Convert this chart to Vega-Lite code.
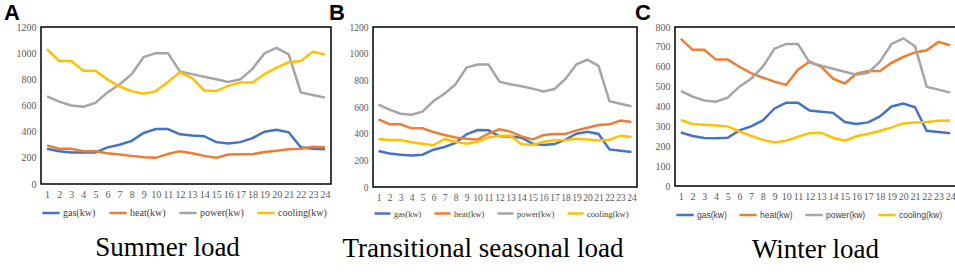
{
"$schema": "https://vega.github.io/schema/vega-lite/v6.json",
"padding": {"left": 3, "right": 0, "top": 1, "bottom": 2},
"background": "white",
"datasets": {
"summer": [
{"hour":1,"series":"gas(kw)","value":270},{"hour":2,"series":"gas(kw)","value":250},{"hour":3,"series":"gas(kw)","value":240},{"hour":4,"series":"gas(kw)","value":240},{"hour":5,"series":"gas(kw)","value":240},{"hour":6,"series":"gas(kw)","value":280},{"hour":7,"series":"gas(kw)","value":300},{"hour":8,"series":"gas(kw)","value":330},{"hour":9,"series":"gas(kw)","value":390},{"hour":10,"series":"gas(kw)","value":420},{"hour":11,"series":"gas(kw)","value":420},{"hour":12,"series":"gas(kw)","value":380},{"hour":13,"series":"gas(kw)","value":370},{"hour":14,"series":"gas(kw)","value":365},{"hour":15,"series":"gas(kw)","value":320},{"hour":16,"series":"gas(kw)","value":310},{"hour":17,"series":"gas(kw)","value":320},{"hour":18,"series":"gas(kw)","value":350},{"hour":19,"series":"gas(kw)","value":400},{"hour":20,"series":"gas(kw)","value":415},{"hour":21,"series":"gas(kw)","value":395},{"hour":22,"series":"gas(kw)","value":280},{"hour":23,"series":"gas(kw)","value":270},{"hour":24,"series":"gas(kw)","value":265},
{"hour":1,"series":"heat(kw)","value":295},{"hour":2,"series":"heat(kw)","value":270},{"hour":3,"series":"heat(kw)","value":270},{"hour":4,"series":"heat(kw)","value":250},{"hour":5,"series":"heat(kw)","value":250},{"hour":6,"series":"heat(kw)","value":235},{"hour":7,"series":"heat(kw)","value":225},{"hour":8,"series":"heat(kw)","value":215},{"hour":9,"series":"heat(kw)","value":205},{"hour":10,"series":"heat(kw)","value":200},{"hour":11,"series":"heat(kw)","value":230},{"hour":12,"series":"heat(kw)","value":250},{"hour":13,"series":"heat(kw)","value":235},{"hour":14,"series":"heat(kw)","value":215},{"hour":15,"series":"heat(kw)","value":200},{"hour":16,"series":"heat(kw)","value":225},{"hour":17,"series":"heat(kw)","value":228},{"hour":18,"series":"heat(kw)","value":228},{"hour":19,"series":"heat(kw)","value":245},{"hour":20,"series":"heat(kw)","value":255},{"hour":21,"series":"heat(kw)","value":265},{"hour":22,"series":"heat(kw)","value":270},{"hour":23,"series":"heat(kw)","value":285},{"hour":24,"series":"heat(kw)","value":280},
{"hour":1,"series":"power(kw)","value":670},{"hour":2,"series":"power(kw)","value":630},{"hour":3,"series":"power(kw)","value":600},{"hour":4,"series":"power(kw)","value":590},{"hour":5,"series":"power(kw)","value":620},{"hour":6,"series":"power(kw)","value":700},{"hour":7,"series":"power(kw)","value":760},{"hour":8,"series":"power(kw)","value":840},{"hour":9,"series":"power(kw)","value":970},{"hour":10,"series":"power(kw)","value":1000},{"hour":11,"series":"power(kw)","value":1000},{"hour":12,"series":"power(kw)","value":860},{"hour":13,"series":"power(kw)","value":840},{"hour":14,"series":"power(kw)","value":820},{"hour":15,"series":"power(kw)","value":800},{"hour":16,"series":"power(kw)","value":780},{"hour":17,"series":"power(kw)","value":800},{"hour":18,"series":"power(kw)","value":880},{"hour":19,"series":"power(kw)","value":1000},{"hour":20,"series":"power(kw)","value":1040},{"hour":21,"series":"power(kw)","value":990},{"hour":22,"series":"power(kw)","value":700},{"hour":23,"series":"power(kw)","value":680},{"hour":24,"series":"power(kw)","value":660},
{"hour":1,"series":"cooling(kw)","value":1030},{"hour":2,"series":"cooling(kw)","value":940},{"hour":3,"series":"cooling(kw)","value":940},{"hour":4,"series":"cooling(kw)","value":865},{"hour":5,"series":"cooling(kw)","value":865},{"hour":6,"series":"cooling(kw)","value":800},{"hour":7,"series":"cooling(kw)","value":745},{"hour":8,"series":"cooling(kw)","value":710},{"hour":9,"series":"cooling(kw)","value":690},{"hour":10,"series":"cooling(kw)","value":710},{"hour":11,"series":"cooling(kw)","value":780},{"hour":12,"series":"cooling(kw)","value":855},{"hour":13,"series":"cooling(kw)","value":810},{"hour":14,"series":"cooling(kw)","value":715},{"hour":15,"series":"cooling(kw)","value":710},{"hour":16,"series":"cooling(kw)","value":750},{"hour":17,"series":"cooling(kw)","value":775},{"hour":18,"series":"cooling(kw)","value":775},{"hour":19,"series":"cooling(kw)","value":840},{"hour":20,"series":"cooling(kw)","value":890},{"hour":21,"series":"cooling(kw)","value":930},{"hour":22,"series":"cooling(kw)","value":940},{"hour":23,"series":"cooling(kw)","value":1010},{"hour":24,"series":"cooling(kw)","value":990}
],
"transitional": [
{"hour":1,"series":"gas(kw)","value":270},{"hour":2,"series":"gas(kw)","value":252},{"hour":3,"series":"gas(kw)","value":242},{"hour":4,"series":"gas(kw)","value":236},{"hour":5,"series":"gas(kw)","value":242},{"hour":6,"series":"gas(kw)","value":280},{"hour":7,"series":"gas(kw)","value":300},{"hour":8,"series":"gas(kw)","value":330},{"hour":9,"series":"gas(kw)","value":395},{"hour":10,"series":"gas(kw)","value":427},{"hour":11,"series":"gas(kw)","value":425},{"hour":12,"series":"gas(kw)","value":380},{"hour":13,"series":"gas(kw)","value":378},{"hour":14,"series":"gas(kw)","value":370},{"hour":15,"series":"gas(kw)","value":325},{"hour":16,"series":"gas(kw)","value":315},{"hour":17,"series":"gas(kw)","value":322},{"hour":18,"series":"gas(kw)","value":355},{"hour":19,"series":"gas(kw)","value":400},{"hour":20,"series":"gas(kw)","value":415},{"hour":21,"series":"gas(kw)","value":398},{"hour":22,"series":"gas(kw)","value":282},{"hour":23,"series":"gas(kw)","value":272},{"hour":24,"series":"gas(kw)","value":262},
{"hour":1,"series":"heat(kw)","value":508},{"hour":2,"series":"heat(kw)","value":471},{"hour":3,"series":"heat(kw)","value":470},{"hour":4,"series":"heat(kw)","value":440},{"hour":5,"series":"heat(kw)","value":440},{"hour":6,"series":"heat(kw)","value":412},{"hour":7,"series":"heat(kw)","value":390},{"hour":8,"series":"heat(kw)","value":372},{"hour":9,"series":"heat(kw)","value":362},{"hour":10,"series":"heat(kw)","value":356},{"hour":11,"series":"heat(kw)","value":400},{"hour":12,"series":"heat(kw)","value":432},{"hour":13,"series":"heat(kw)","value":415},{"hour":14,"series":"heat(kw)","value":380},{"hour":15,"series":"heat(kw)","value":356},{"hour":16,"series":"heat(kw)","value":390},{"hour":17,"series":"heat(kw)","value":398},{"hour":18,"series":"heat(kw)","value":398},{"hour":19,"series":"heat(kw)","value":425},{"hour":20,"series":"heat(kw)","value":445},{"hour":21,"series":"heat(kw)","value":465},{"hour":22,"series":"heat(kw)","value":470},{"hour":23,"series":"heat(kw)","value":498},{"hour":24,"series":"heat(kw)","value":488},
{"hour":1,"series":"power(kw)","value":618},{"hour":2,"series":"power(kw)","value":580},{"hour":3,"series":"power(kw)","value":550},{"hour":4,"series":"power(kw)","value":542},{"hour":5,"series":"power(kw)","value":565},{"hour":6,"series":"power(kw)","value":645},{"hour":7,"series":"power(kw)","value":700},{"hour":8,"series":"power(kw)","value":770},{"hour":9,"series":"power(kw)","value":896},{"hour":10,"series":"power(kw)","value":918},{"hour":11,"series":"power(kw)","value":918},{"hour":12,"series":"power(kw)","value":790},{"hour":13,"series":"power(kw)","value":770},{"hour":14,"series":"power(kw)","value":755},{"hour":15,"series":"power(kw)","value":738},{"hour":16,"series":"power(kw)","value":717},{"hour":17,"series":"power(kw)","value":735},{"hour":18,"series":"power(kw)","value":810},{"hour":19,"series":"power(kw)","value":920},{"hour":20,"series":"power(kw)","value":955},{"hour":21,"series":"power(kw)","value":908},{"hour":22,"series":"power(kw)","value":643},{"hour":23,"series":"power(kw)","value":625},{"hour":24,"series":"power(kw)","value":606},
{"hour":1,"series":"cooling(kw)","value":360},{"hour":2,"series":"cooling(kw)","value":353},{"hour":3,"series":"cooling(kw)","value":353},{"hour":4,"series":"cooling(kw)","value":335},{"hour":5,"series":"cooling(kw)","value":325},{"hour":6,"series":"cooling(kw)","value":313},{"hour":7,"series":"cooling(kw)","value":360},{"hour":8,"series":"cooling(kw)","value":340},{"hour":9,"series":"cooling(kw)","value":325},{"hour":10,"series":"cooling(kw)","value":340},{"hour":11,"series":"cooling(kw)","value":372},{"hour":12,"series":"cooling(kw)","value":385},{"hour":13,"series":"cooling(kw)","value":385},{"hour":14,"series":"cooling(kw)","value":320},{"hour":15,"series":"cooling(kw)","value":315},{"hour":16,"series":"cooling(kw)","value":340},{"hour":17,"series":"cooling(kw)","value":350},{"hour":18,"series":"cooling(kw)","value":350},{"hour":19,"series":"cooling(kw)","value":362},{"hour":20,"series":"cooling(kw)","value":356},{"hour":21,"series":"cooling(kw)","value":348},{"hour":22,"series":"cooling(kw)","value":355},{"hour":23,"series":"cooling(kw)","value":385},{"hour":24,"series":"cooling(kw)","value":375}
],
"winter": [
{"hour":1,"series":"gas(kw)","value":269},{"hour":2,"series":"gas(kw)","value":252},{"hour":3,"series":"gas(kw)","value":242},{"hour":4,"series":"gas(kw)","value":240},{"hour":5,"series":"gas(kw)","value":243},{"hour":6,"series":"gas(kw)","value":280},{"hour":7,"series":"gas(kw)","value":300},{"hour":8,"series":"gas(kw)","value":330},{"hour":9,"series":"gas(kw)","value":390},{"hour":10,"series":"gas(kw)","value":419},{"hour":11,"series":"gas(kw)","value":419},{"hour":12,"series":"gas(kw)","value":380},{"hour":13,"series":"gas(kw)","value":373},{"hour":14,"series":"gas(kw)","value":368},{"hour":15,"series":"gas(kw)","value":322},{"hour":16,"series":"gas(kw)","value":312},{"hour":17,"series":"gas(kw)","value":320},{"hour":18,"series":"gas(kw)","value":350},{"hour":19,"series":"gas(kw)","value":400},{"hour":20,"series":"gas(kw)","value":415},{"hour":21,"series":"gas(kw)","value":396},{"hour":22,"series":"gas(kw)","value":278},{"hour":23,"series":"gas(kw)","value":272},{"hour":24,"series":"gas(kw)","value":265},
{"hour":1,"series":"heat(kw)","value":740},{"hour":2,"series":"heat(kw)","value":685},{"hour":3,"series":"heat(kw)","value":685},{"hour":4,"series":"heat(kw)","value":636},{"hour":5,"series":"heat(kw)","value":636},{"hour":6,"series":"heat(kw)","value":600},{"hour":7,"series":"heat(kw)","value":568},{"hour":8,"series":"heat(kw)","value":545},{"hour":9,"series":"heat(kw)","value":525},{"hour":10,"series":"heat(kw)","value":509},{"hour":11,"series":"heat(kw)","value":585},{"hour":12,"series":"heat(kw)","value":626},{"hour":13,"series":"heat(kw)","value":600},{"hour":14,"series":"heat(kw)","value":540},{"hour":15,"series":"heat(kw)","value":516},{"hour":16,"series":"heat(kw)","value":565},{"hour":17,"series":"heat(kw)","value":578},{"hour":18,"series":"heat(kw)","value":578},{"hour":19,"series":"heat(kw)","value":620},{"hour":20,"series":"heat(kw)","value":650},{"hour":21,"series":"heat(kw)","value":672},{"hour":22,"series":"heat(kw)","value":683},{"hour":23,"series":"heat(kw)","value":725},{"hour":24,"series":"heat(kw)","value":708},
{"hour":1,"series":"power(kw)","value":478},{"hour":2,"series":"power(kw)","value":450},{"hour":3,"series":"power(kw)","value":430},{"hour":4,"series":"power(kw)","value":424},{"hour":5,"series":"power(kw)","value":445},{"hour":6,"series":"power(kw)","value":500},{"hour":7,"series":"power(kw)","value":540},{"hour":8,"series":"power(kw)","value":600},{"hour":9,"series":"power(kw)","value":691},{"hour":10,"series":"power(kw)","value":715},{"hour":11,"series":"power(kw)","value":715},{"hour":12,"series":"power(kw)","value":620},{"hour":13,"series":"power(kw)","value":605},{"hour":14,"series":"power(kw)","value":590},{"hour":15,"series":"power(kw)","value":575},{"hour":16,"series":"power(kw)","value":560},{"hour":17,"series":"power(kw)","value":570},{"hour":18,"series":"power(kw)","value":625},{"hour":19,"series":"power(kw)","value":715},{"hour":20,"series":"power(kw)","value":743},{"hour":21,"series":"power(kw)","value":703},{"hour":22,"series":"power(kw)","value":500},{"hour":23,"series":"power(kw)","value":485},{"hour":24,"series":"power(kw)","value":470},
{"hour":1,"series":"cooling(kw)","value":332},{"hour":2,"series":"cooling(kw)","value":312},{"hour":3,"series":"cooling(kw)","value":308},{"hour":4,"series":"cooling(kw)","value":305},{"hour":5,"series":"cooling(kw)","value":300},{"hour":6,"series":"cooling(kw)","value":275},{"hour":7,"series":"cooling(kw)","value":252},{"hour":8,"series":"cooling(kw)","value":232},{"hour":9,"series":"cooling(kw)","value":219},{"hour":10,"series":"cooling(kw)","value":228},{"hour":11,"series":"cooling(kw)","value":248},{"hour":12,"series":"cooling(kw)","value":266},{"hour":13,"series":"cooling(kw)","value":268},{"hour":14,"series":"cooling(kw)","value":243},{"hour":15,"series":"cooling(kw)","value":228},{"hour":16,"series":"cooling(kw)","value":250},{"hour":17,"series":"cooling(kw)","value":263},{"hour":18,"series":"cooling(kw)","value":277},{"hour":19,"series":"cooling(kw)","value":295},{"hour":20,"series":"cooling(kw)","value":315},{"hour":21,"series":"cooling(kw)","value":320},{"hour":22,"series":"cooling(kw)","value":322},{"hour":23,"series":"cooling(kw)","value":328},{"hour":24,"series":"cooling(kw)","value":330}
]
},
"config": {
"view": {"stroke": "#000000", "strokeWidth": 1.5},
"axis": {"labelFont": "Liberation Serif", "labelFontSize": 10, "labelColor": "#595959", "ticks": false, "domain": false, "grid": false, "title": null, "labelPadding": 5, "format": "d"},
"legend": {"orient": "bottom", "direction": "horizontal", "title": null, "symbolType": "stroke", "symbolStrokeWidth": 3, "symbolSize": 300, "labelFont": "Liberation Serif", "labelFontSize": 10, "labelColor": "#404040", "columnPadding": 8, "offset": 3, "labelOffset": 2, "gridAlign": "none"},
"line": {"strokeWidth": 2.5}
},
"spacing": -4,
"resolve": {"scale": {"color": "independent", "x": "independent", "y": "independent"}, "legend": {"color": "independent"}},
"hconcat": [
{
"title": {"text": "Summer load", "orient": "bottom", "font": "Liberation Serif", "fontSize": 27, "fontWeight": "normal", "color": "#000000", "anchor": "middle", "offset": 17},
"vconcat": [{
"title": {"text": "A", "anchor": "start", "frame": "group", "font": "Liberation Sans", "fontSize": 22, "fontWeight": "bold", "color": "#000000", "dx": -37, "offset": -3},
"width": 290, "height": 157,
"data": {"name": "summer"},
"mark": {"type": "line"},
"encoding": {
"x": {"field": "hour", "type": "ordinal", "scale": {"type": "point", "padding": 0.5}, "axis": {"labelAngle": 0}},
"y": {"field": "value", "type": "quantitative", "scale": {"domain": [0, 1200], "nice": false}, "axis": {"values": [0, 200, 400, 600, 800, 1000, 1200]}},
"color": {"field": "series", "type": "nominal", "scale": {"domain": ["gas(kw)", "heat(kw)", "power(kw)", "cooling(kw)"], "range": ["#4472C4", "#ED7D31", "#A5A5A5", "#FFC000"]}}
}
}]
},
{
"title": {"text": "Transitional seasonal load", "orient": "bottom", "font": "Liberation Serif", "fontSize": 27, "fontWeight": "normal", "color": "#000000", "anchor": "middle", "offset": 17},
"vconcat": [{
"title": {"text": "B", "anchor": "start", "frame": "group", "font": "Liberation Sans", "fontSize": 22, "fontWeight": "bold", "color": "#000000", "dx": -44, "offset": -3},
"width": 264, "height": 160,
"data": {"name": "transitional"},
"mark": {"type": "line"},
"encoding": {
"x": {"field": "hour", "type": "ordinal", "scale": {"type": "point", "padding": 0.5}, "axis": {"labelAngle": 0, "labelFontSize": 9.5}},
"y": {"field": "value", "type": "quantitative", "scale": {"domain": [0, 1200], "nice": false}, "axis": {"values": [0, 200, 400, 600, 800, 1000, 1200], "labelFontSize": 9.5}},
"color": {"field": "series", "type": "nominal", "scale": {"domain": ["gas(kw)", "heat(kw)", "power(kw)", "cooling(kw)"], "range": ["#4472C4", "#ED7D31", "#A5A5A5", "#FFC000"]}, "legend": {"labelFontSize": 8.5, "columnPadding": 7, "symbolSize": 256, "offset": 1}}
}
}]
},
{
"title": {"text": "Winter load", "orient": "bottom", "font": "Liberation Serif", "fontSize": 27, "fontWeight": "normal", "color": "#000000", "anchor": "middle", "offset": 17, "dx": 20},
"vconcat": [{
"title": {"text": "C", "anchor": "start", "frame": "group", "font": "Liberation Sans", "fontSize": 22, "fontWeight": "bold", "color": "#000000", "dx": -40, "offset": -3},
"width": 281, "height": 159,
"data": {"name": "winter"},
"mark": {"type": "line"},
"encoding": {
"x": {"field": "hour", "type": "ordinal", "scale": {"type": "point", "padding": 0.5}, "axis": {"labelAngle": 0}},
"y": {"field": "value", "type": "quantitative", "scale": {"domain": [0, 800], "nice": false}, "axis": {"values": [0, 100, 200, 300, 400, 500, 600, 700, 800]}},
"color": {"field": "series", "type": "nominal", "scale": {"domain": ["gas(kw)", "heat(kw)", "power(kw)", "cooling(kw)"], "range": ["#4472C4", "#ED7D31", "#A5A5A5", "#FFC000"]}, "legend": {"labelFont": "Liberation Sans", "labelFontSize": 8.5, "columnPadding": 7, "symbolSize": 300}}
}
}]
}
]
}
